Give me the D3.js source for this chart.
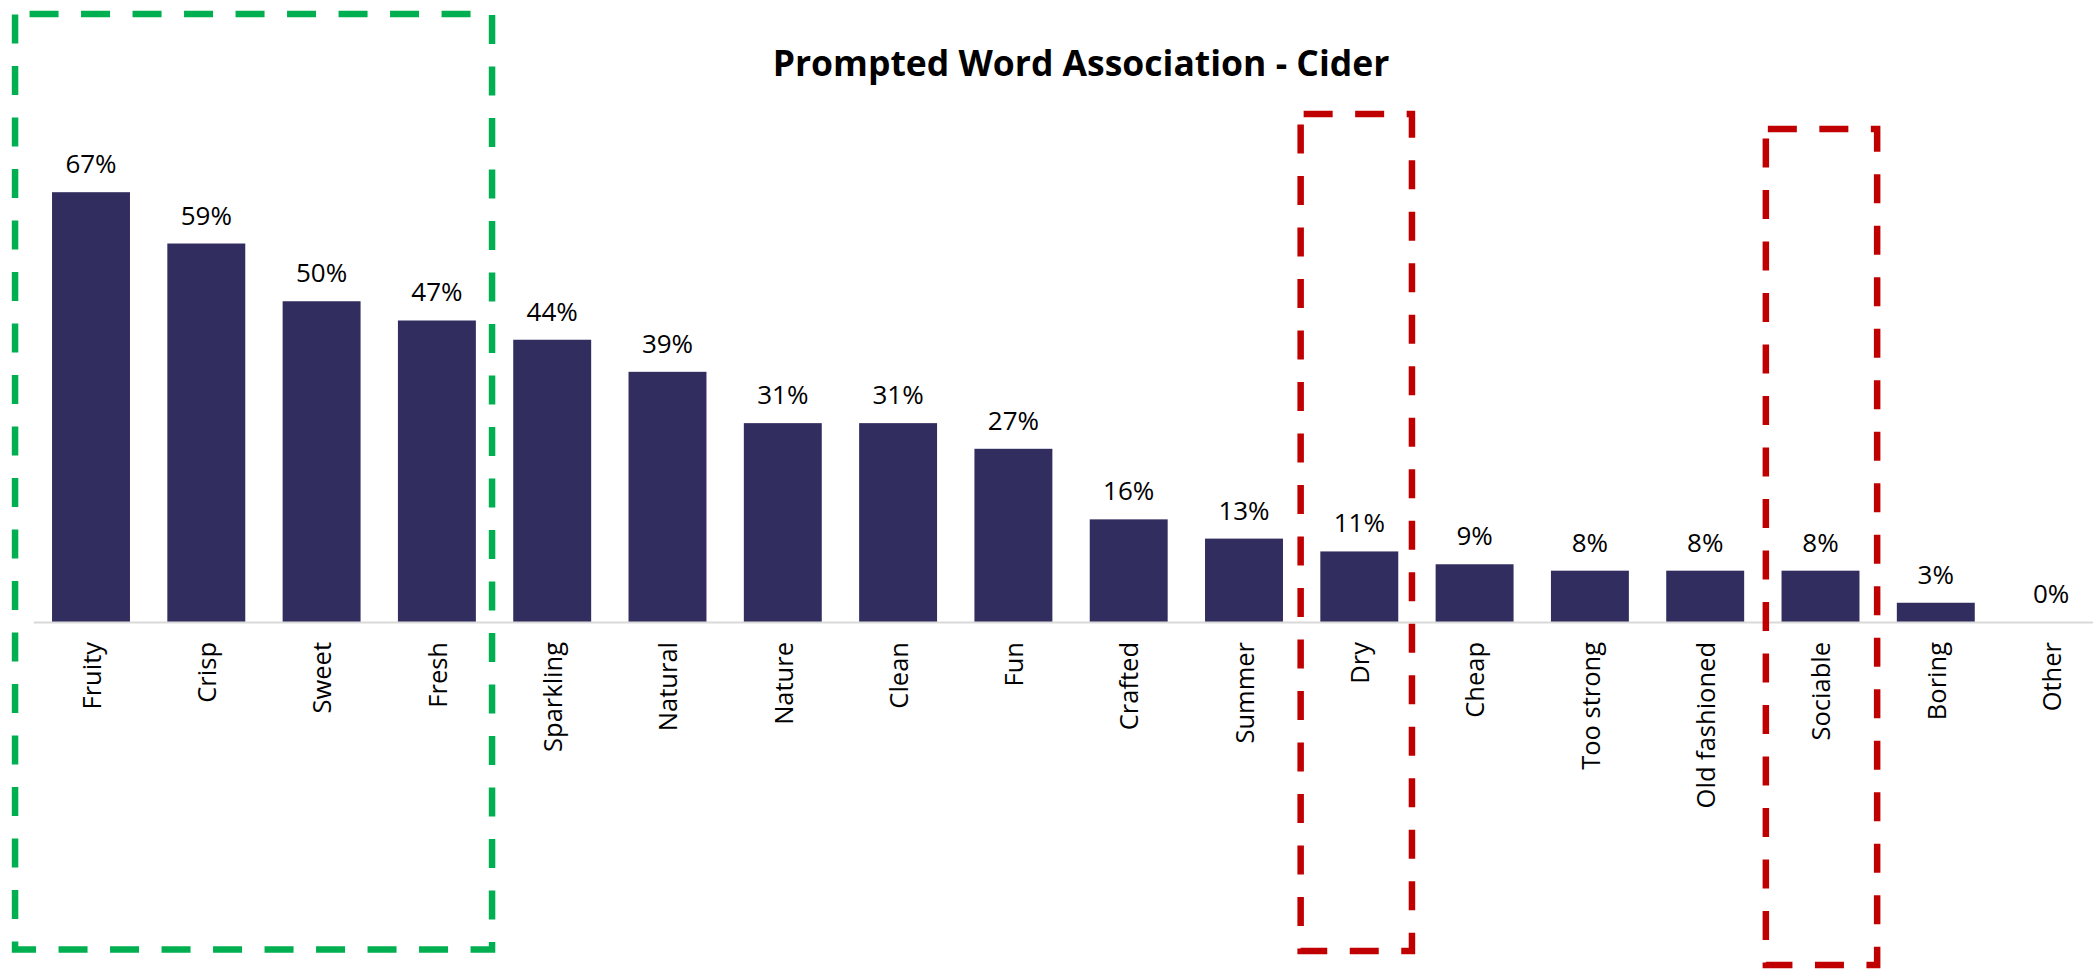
<!DOCTYPE html>
<html>
<head>
<meta charset="utf-8">
<script src="https://cdn.jsdelivr.net/npm/d3@7"></script>
<style>
  html, body { margin: 0; padding: 0; background: #ffffff; }
  svg { display: block; font-family: "Open Sans", "Noto Sans", sans-serif; }
</style>
</head>
<body>
<svg id="chart" width="2093" height="970"></svg>
<script>
// Share of respondents associating each word with cider (%)
const categories = ["Fruity", "Crisp", "Sweet", "Fresh", "Sparkling", "Natural", "Nature", "Clean", "Fun",
  "Crafted", "Summer", "Dry", "Cheap", "Too strong", "Old fashioned", "Sociable", "Boring", "Other"];
const values = [67, 59, 50, 47, 44, 39, 31, 31, 27, 16, 13, 11, 9, 8, 8, 8, 3, 0];
const titleText = "Prompted Word Association - Cider";

// Highlight frames drawn around groups of words
const highlightFirst = ["Fruity", "Dry", "Sociable"];
const highlightLast = ["Fresh", "Dry", "Sociable"];
const highlightKind = ["positive", "negative", "negative"];

const W = 2093, H = 970;
const svg = d3.select("#chart");

const x = d3.scaleBand()
  .domain(categories)
  .range([33.35, 2108.75])
  .paddingInner(0.324)
  .paddingOuter(0.162);

const y = d3.scaleLinear()
  .domain([0, 80])
  .range([622, 108.8]);

// Title
svg.append("text")
  .attr("x", 1081)
  .attr("y", 76)
  .attr("text-anchor", "middle")
  .attr("font-size", 35.5)
  .attr("font-weight", 700)
  .attr("fill", "#000")
  .text(titleText);

// Bars
svg.append("g")
  .selectAll("rect")
  .data(values)
  .join("rect")
  .attr("x", (d, i) => x(categories[i]))
  .attr("width", x.bandwidth())
  .attr("y", d => y(d))
  .attr("height", d => y(0) - y(d))
  .attr("fill", "#312e5f");

// Value labels
svg.append("g")
  .selectAll("text")
  .data(values)
  .join("text")
  .attr("x", (d, i) => x(categories[i]) + x.bandwidth() / 2)
  .attr("y", d => y(d) - 19)
  .attr("text-anchor", "middle")
  .attr("font-size", 26)
  .attr("fill", "#000")
  .text(d => d + "%");

// Category axis with vertical labels
const axis = svg.append("g")
  .attr("transform", `translate(0,${y(0)})`)
  .call(d3.axisBottom(x).tickSize(0).tickPadding(0));
axis.select(".domain").attr("stroke", "#d9d9d9").attr("stroke-width", 2);
axis.selectAll(".tick text")
  .attr("transform", "rotate(-90)")
  .attr("x", -20)
  .attr("y", 0)
  .attr("dy", "0.38em")
  .attr("text-anchor", "end")
  .attr("font-size", 25.5)
  .attr("font-family", "\"Open Sans\", \"Noto Sans\", sans-serif")
  .attr("fill", "#000");

// Dashed highlight frames, aligned to the category bands
const step = x.step();
const gap = step - x.bandwidth();
const frameStyle = {
  positive: { color: "#00b050", top: 14, bottom: 949.5, padL: -18.3, padR: -2.5, phase: 37 },
  negative: { color: "#c00000", top: 114, bottom: 951, padL: -1, padR: -5, phase: 48.5 }
};
const frames = highlightFirst.map((f, i) => {
  const s = frameStyle[highlightKind[i]];
  const x0 = x(f) - gap / 2 + s.padL;
  const x1 = x(highlightLast[i]) + x.bandwidth() + gap / 2 + s.padR;
  return { x0, x1, s };
});
// Second red frame sits a little lower
frames[2].s = Object.assign({}, frames[2].s, { top: 129, bottom: 965, phase: 49.5 });
frames[2].x0 += 4; frames[2].x1 += 4;

svg.append("g")
  .selectAll("path")
  .data(frames)
  .join("path")
  .attr("d", d => `M${d.x0},${d.s.top}H${d.x1}V${d.s.bottom}H${d.x0}Z`)
  .attr("fill", "none")
  .attr("stroke", d => d.s.color)
  .attr("stroke-width", 6.5)
  .attr("stroke-dasharray", "29 22.5")
  .attr("stroke-dashoffset", d => d.s.phase);
</script>
</body>
</html>
